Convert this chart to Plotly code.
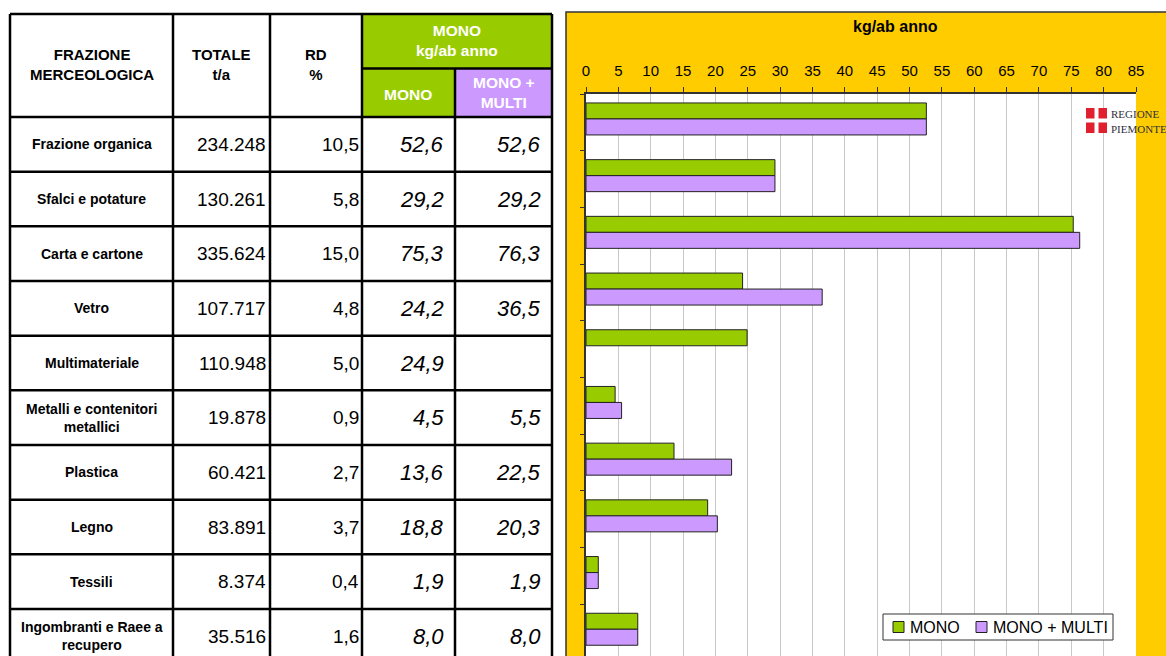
import textwrap
import plotly.graph_objects as go

# ---------------- data ----------------
categories = ["Frazione organica", "Sfalci e potature", "Carta e cartone", "Vetro",
              "Multimateriale", "Metalli e contenitori metallici", "Plastica", "Legno",
              "Tessili", "Ingombranti e Raee a recupero"]
totale_ta = [234248, 130261, 335624, 107717, 110948, 19878, 60421, 83891, 8374, 35516]
rd_pct = [10.5, 5.8, 15.0, 4.8, 5.0, 0.9, 2.7, 3.7, 0.4, 1.6]
mono = [52.6, 29.2, 75.3, 24.2, 24.9, 4.5, 13.6, 18.8, 1.9, 8.0]
mono_multi = [52.6, 29.2, 76.3, 36.5, None, 5.5, 22.5, 20.3, 1.9, 8.0]
x_ticks = list(range(0, 90, 5))

series_names = ["MONO", "MONO + MULTI"]
col_headers = ["FRAZIONE<br>MERCEOLOGICA", "TOTALE<br>t/a", "RD<br>%"]
group_header = "MONO<br>kg/ab anno"
chart_title = "kg/ab anno"

# ---------------- style ----------------
W, H = 1166, 656
GREEN = "#99CC00"
PURPLE = "#CC99FF"
YELLOW = "#FFCC00"
FONT = "Arial, Liberation Sans, sans-serif"


def px(x):
    return x / W


def py(y):
    return 1 - y / H


def it_int(v):
    return f"{v:,}".replace(",", ".")


def it_dec(v):
    return "" if v is None else f"{v:.1f}".replace(".", ",")


shapes = []
annots = []


def rect(x0, x1, y0, y1, fill, line=None, layer="above"):
    shapes.append(dict(type="rect", xref="paper", yref="paper", x0=px(x0), x1=px(x1),
                       y0=py(y0), y1=py(y1), fillcolor=fill,
                       line=line if line else dict(width=0), layer=layer))


def text(x, y, t, size, color="black", xanchor="center", family=FONT, align="center"):
    annots.append(dict(xref="paper", yref="paper", x=px(x), y=py(y), text=t,
                       showarrow=False, xanchor=xanchor, yanchor="middle", align=align,
                       font=dict(family=family, size=size, color=color)))


plot_l, plot_r, plot_t = 586, 1136, 94

# yellow chart panel + white plot area
rect(566, 1175, 12, 670, YELLOW, dict(color="#333333", width=1.5), "below")
rect(plot_l, plot_r, plot_t, 670, "white", None, "below")

# ---------------- table ----------------
col_x = [10, 173, 270, 362, 455, 552]
top, mid, hdr_bot = 14, 68.5, 117
row_h = 54.67
n = len(categories)
table_bot = hdr_bot + n * row_h

rect(col_x[3], col_x[5], top, mid, GREEN, None, "below")
rect(col_x[3], col_x[4], mid, hdr_bot, GREEN, None, "below")
rect(col_x[4], col_x[5], mid, hdr_bot, PURPLE, None, "below")

LW = 2.5


def hline(x0, x1, y):
    shapes.append(dict(type="line", xref="paper", yref="paper", x0=px(x0), x1=px(x1),
                       y0=py(y), y1=py(y), line=dict(color="black", width=LW)))


def vline(x, y0, y1):
    shapes.append(dict(type="line", xref="paper", yref="paper", x0=px(x), x1=px(x),
                       y0=py(y0), y1=py(y1), line=dict(color="black", width=LW)))


hline(col_x[0], col_x[5], top)
hline(col_x[3], col_x[5], mid)
for i in range(n + 1):
    hline(col_x[0], col_x[5], hdr_bot + i * row_h)
for j, x in enumerate(col_x):
    vline(x, mid if j == 4 else top, table_bot)

# header text
hdr_cx = [(col_x[0] + col_x[1]) / 2, (col_x[1] + col_x[2]) / 2, (col_x[2] + col_x[3]) / 2]
for cx, t in zip(hdr_cx, col_headers):
    text(cx, 64.5, f"<b>{t}</b>", 15)
text((col_x[3] + col_x[5]) / 2, 40, f"<b>{group_header}</b>", 15.5, "white")
text((col_x[3] + col_x[4]) / 2, 94, f"<b>{series_names[0]}</b>", 15.5, "white")
text((col_x[4] + col_x[5]) / 2, 93,
     "<b>" + series_names[1].replace(" + ", " +<br>") + "</b>", 15.5, "white")

# rows
for i, cat in enumerate(categories):
    cy = hdr_bot + (i + 0.5) * row_h
    label = "<br>".join(textwrap.wrap(cat, 21))
    text(hdr_cx[0], cy, f"<b>{label}</b>", 14)
    text(col_x[2] - 2, cy, it_int(totale_ta[i]), 19, xanchor="right")
    text(col_x[3] - 1, cy, it_dec(rd_pct[i]), 19, xanchor="right")
    text(col_x[4] - 9, cy, f"<i>{it_dec(mono[i])}</i>", 22, xanchor="right")
    if mono_multi[i] is not None:
        text(col_x[5] - 9, cy, f"<i>{it_dec(mono_multi[i])}</i>", 22, xanchor="right")

# ---------------- chart ----------------
band = 56.7
y_bottom_val = -0.5 + (H - plot_t) / band
bar_w = 16 / band
off_top = -19.4 / band

fig = go.Figure()
fig.add_trace(go.Bar(y=categories, x=mono, orientation="h", name=series_names[0],
                     width=bar_w, offset=off_top,
                     marker=dict(color=GREEN, line=dict(color="#222222", width=1))))
fig.add_trace(go.Bar(y=categories, x=mono_multi, orientation="h", name=series_names[1],
                     width=bar_w, offset=off_top + bar_w,
                     marker=dict(color=PURPLE, line=dict(color="#222222", width=1))))

text(895, 26, f"<b>{chart_title}</b>", 16)

# logo (Regione Piemonte)
rect(1086, 1107, 108, 133, "#E0202E")
rect(1094.5, 1098.5, 108, 133, "white")
rect(1086, 1107, 118.5, 122.5, "white")
text(1108.5, 114, "REGIONE", 11, "#2e2e3e", "left", "Liberation Serif, serif")
text(1108.5, 128.5, "PIEMONTE", 11, "#2e2e3e", "left", "Liberation Serif, serif")

# legend
rect(883, 1113, 614, 640, "white", dict(color="#333333", width=1))
for sx, colr, name in [(893, GREEN, series_names[0]), (976, PURPLE, series_names[1])]:
    rect(sx, sx + 11, 621.5, 632.5, colr, dict(color="#222222", width=1))
    text(sx + 15, 627.5, name, 16, xanchor="left")

fig.update_layout(
    width=W, height=H, margin=dict(l=0, r=0, t=0, b=0, autoexpand=False),
    paper_bgcolor="white", plot_bgcolor="white",
    barmode="group", bargap=0.436, bargroupgap=0,
    showlegend=False,
    shapes=shapes, annotations=annots,
    xaxis=dict(domain=[px(plot_l), px(plot_r)], side="top", range=[0, 85],
               tickvals=x_ticks, showgrid=True, gridcolor="#C8C8C8", gridwidth=1,
               showline=True, linecolor="#333333", linewidth=1.5,
               ticks="outside", ticklen=5, tickcolor="#333333",
               tickfont=dict(family=FONT, size=15, color="black"),
               ticklabelstandoff=5, zeroline=False, fixedrange=True),
    yaxis=dict(domain=[0, py(plot_t)], type="category", range=[y_bottom_val, -0.5],
               showticklabels=False, showgrid=False, showline=True,
               linecolor="#333333", linewidth=1.5, ticks="outside", ticklen=4,
               tickson="boundaries", tickcolor="#333333", fixedrange=True),
)

fig.write_html("out.html", config={"displayModeBar": False},
               post_script="document.body.style.margin='0px';")
